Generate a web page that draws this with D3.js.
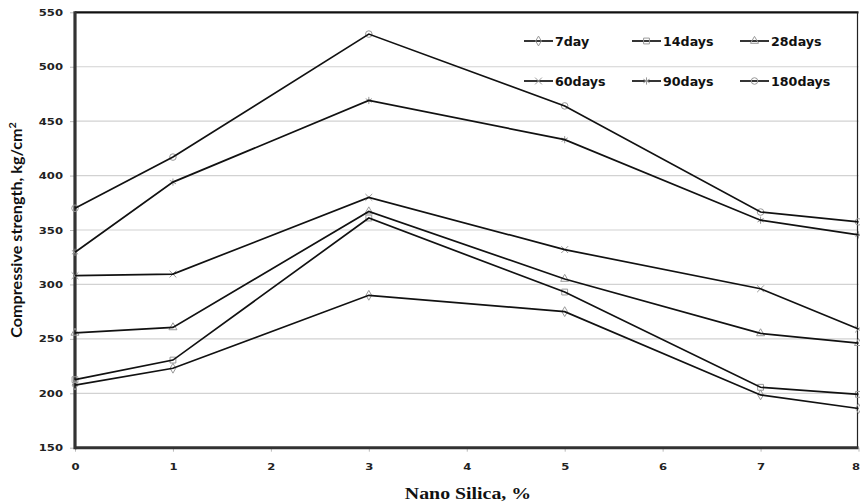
<!DOCTYPE html>
<html>
<head>
<meta charset="utf-8">
<script src="https://cdn.jsdelivr.net/npm/d3@7"></script>
<style>
  html, body { margin: 0; padding: 0; background: #fff; }
  svg { display: block; }
</style>
</head>
<body>
<svg id="chart" width="860" height="504"></svg>
<script>
// Nano silica dosage (%) and compressive strength (kg/cm²) by curing age
const nanoSilica = [0, 1, 3, 5, 7, 8];
const seriesNames = ["7day", "14days", "28days", "60days", "90days", "180days"];
const strength7 = [207.5, 223, 290, 275, 198.5, 186];
const strength14 = [212.5, 230.5, 361, 293, 205.5, 199];
const strength28 = [255.5, 260.5, 367, 305, 255, 246];
const strength60 = [308, 309.5, 380, 332, 296, 259];
const strength90 = [329.5, 394, 469, 433, 359, 345.5];
const strength180 = [370, 417, 530, 464, 366.5, 357.5];
const xTicks = [0, 1, 2, 3, 4, 5, 6, 7, 8];
const yTicks = [150, 200, 250, 300, 350, 400, 450, 500, 550];

const allSeries = [strength7, strength14, strength28, strength60, strength90, strength180];
const symbols = [d3.symbolDiamond, d3.symbolSquare, d3.symbolTriangle, d3.symbolX, d3.symbolAsterisk, d3.symbolCircle];
const symbolSizes = [28, 34, 28, 32, 36, 34];

const svg = d3.select("#chart");
const plot = { left: 75, right: 858.5, top: 12.3, bottom: 447.7 };

const x = d3.scaleLinear().domain([0, 8]).range([plot.left, plot.right]);
const y = d3.scaleLinear().domain([150, 550]).range([plot.bottom, plot.top]);

// stretch text horizontally to the wide lettering of the figure
function widen(sel, factor) {
  sel.each(function () {
    const w = this.getComputedTextLength();
    d3.select(this).attr("textLength", w * factor).attr("lengthAdjust", "spacingAndGlyphs");
  });
}

// horizontal gridlines
svg.append("g")
  .selectAll("line")
  .data(yTicks.filter(v => v > 150 && v < 550))
  .join("line")
  .attr("x1", plot.left).attr("x2", plot.right)
  .attr("y1", d => y(d)).attr("y2", d => y(d))
  .attr("stroke", "#d2d2d2").attr("stroke-width", 1.2);

// y axis
const yAxis = svg.append("g")
  .attr("transform", `translate(${plot.left},0)`)
  .call(d3.axisLeft(y).tickValues(yTicks).tickSize(5).tickPadding(7));
yAxis.select(".domain").remove();
yAxis.selectAll(".tick line").attr("stroke", "#bbb");
yAxis.selectAll(".tick text")
  .attr("font-family", "DejaVu Sans, Verdana, sans-serif")
  .attr("font-weight", "bold")
  .attr("font-size", 9.5)
  .attr("fill", "#222")
  .call(widen, 1.22);

// x axis
const xAxis = svg.append("g")
  .attr("transform", `translate(0,${plot.bottom})`)
  .call(d3.axisBottom(x).tickValues(xTicks).tickFormat(d3.format("d")).tickSize(4).tickPadding(12));
xAxis.select(".domain").remove();
xAxis.selectAll(".tick line").attr("stroke", "#bbb");
xAxis.selectAll(".tick text")
  .attr("font-family", "DejaVu Sans, Verdana, sans-serif")
  .attr("font-weight", "bold")
  .attr("font-size", 9.5)
  .attr("fill", "#222")
  .attr("dx", d => (d === 8 ? -3 : 0))
  .call(widen, 1.22);

// plot frame
svg.append("line").attr("x1", plot.left).attr("x2", plot.right).attr("y1", plot.top).attr("y2", plot.top)
  .attr("stroke", "#111").attr("stroke-width", 2.2);
svg.append("line").attr("x1", plot.right - 1).attr("x2", plot.right - 1).attr("y1", plot.top).attr("y2", plot.bottom)
  .attr("stroke", "#222").attr("stroke-width", 1.2);
svg.append("line").attr("x1", plot.left).attr("x2", plot.right).attr("y1", plot.bottom).attr("y2", plot.bottom)
  .attr("stroke", "#333").attr("stroke-width", 3);
svg.append("line").attr("x1", plot.left).attr("x2", plot.left).attr("y1", plot.top - 1).attr("y2", plot.bottom + 1.5)
  .attr("stroke", "#333").attr("stroke-width", 3.2);

// series lines and markers
const line = d3.line().x((d, i) => x(nanoSilica[i])).y(d => y(d));
allSeries.forEach((vals, k) => {
  svg.append("g")
    .selectAll("path")
    .data(vals)
    .join("path")
    .attr("transform", (d, i) => `translate(${x(nanoSilica[i])},${y(d)})`)
    .attr("d", d3.symbol().type(symbols[k]).size(symbolSizes[k]))
    .attr("fill", "none")
    .attr("stroke", "#999")
    .attr("stroke-width", 1);
  svg.append("path")
    .datum(vals)
    .attr("d", line)
    .attr("fill", "none")
    .attr("stroke", "#111")
    .attr("stroke-width", 1.7);
});

// legend: two rows of three
const legendCols = [524, 632, 740];
const legendRows = [41, 81];
seriesNames.forEach((name, k) => {
  const lx = legendCols[k % 3], ly = legendRows[Math.floor(k / 3)];
  const g = svg.append("g").attr("transform", `translate(${lx},${ly})`);
  g.append("line").attr("x1", 0).attr("x2", 29).attr("y1", 0).attr("y2", 0)
    .attr("stroke", "#111").attr("stroke-width", 1.7);
  g.append("path")
    .attr("transform", "translate(14.5,0)")
    .attr("d", d3.symbol().type(symbols[k]).size(symbolSizes[k]))
    .attr("fill", "none").attr("stroke", "#999").attr("stroke-width", 1);
  g.append("text")
    .attr("x", 31).attr("y", 4.5)
    .attr("font-family", "DejaVu Sans, Verdana, sans-serif")
    .attr("font-weight", "bold")
    .attr("font-size", 11.5)
    .attr("fill", "#111")
    .text(name)
    .call(widen, 1.1);
});

// axis titles
const yTitle = svg.append("g").attr("transform", "translate(22,230) rotate(-90)");
const yTitleText = yTitle.append("text")
  .attr("text-anchor", "middle")
  .attr("font-family", "Lato, 'Open Sans', sans-serif")
  .attr("font-weight", "bold")
  .attr("font-size", 15)
  .attr("fill", "#111")
  .call(t => {
    t.append("tspan").text("Compressive strength, kg/cm");
    t.append("tspan").attr("dy", -6).attr("font-size", 10).text("2");
  });
{
  const w = yTitleText.node().getBBox().width;
  yTitleText.attr("transform", `scale(${216 / w},1)`);
}

svg.append("text")
  .attr("x", 468).attr("y", 499)
  .attr("text-anchor", "middle")
  .attr("font-family", "'Liberation Serif', 'Times New Roman', serif")
  .attr("font-weight", "bold")
  .attr("font-size", 16)
  .attr("fill", "#111")
  .text("Nano Silica, %")
  .call(widen, 1.24);
</script>
</body>
</html>
